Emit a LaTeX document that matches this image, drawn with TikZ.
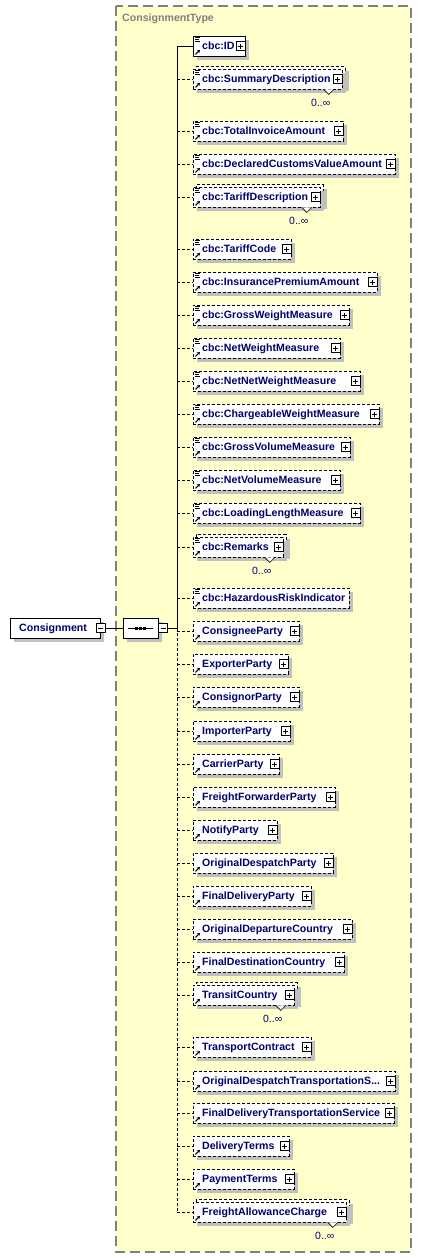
\documentclass[tikz,border=0pt]{standalone}
\usepackage{fontspec}
\setmainfont{Liberation Sans}
\usepackage{tikz}
\usetikzlibrary{arrows.meta, positioning, calc, shadows, shapes.misc}
\definecolor{mynavy}{RGB}{0,0,110}
\definecolor{mygrayline}{RGB}{128,128,128}
\definecolor{myshadow}{RGB}{192,192,192}
\definecolor{myyellow}{RGB}{255,255,204}
\newcommand\elemfont{\fontsize{10.6}{12}\selectfont\bfseries}
\newcommand\occfont{\fontsize{10.5}{12}\selectfont}
\newcommand\cutdots{.{}.{}.}
\tikzset{
  typearea/.style={draw=mygrayline, fill=myyellow, line width=1.2pt,
    dash pattern=on 10pt off 5pt},
  typelabel/.style={anchor=base west, text=mygrayline, font=\elemfont, inner sep=0pt},
  box0/.style={rectangle, draw=black, fill=white, line width=0.8pt,
    minimum height=20pt, anchor=west, inner sep=0pt,
    drop shadow={shadow xshift=4pt, shadow yshift=-4pt, fill=myshadow, opacity=1}},
  box1/.style={box0, dash pattern=on 3pt off 2pt},
  elemtext/.style={anchor=base west, text=mynavy, font=\elemfont, inner sep=0pt},
  occlabel/.style={text=mynavy, font=\occfont, inner sep=0pt},
  plusbox/.style={rectangle, draw=black, fill=white, line width=0.6pt,
    minimum size=9pt, inner sep=0pt,
    path picture={\draw[line width=0.6pt]
      ([xshift=2pt]path picture bounding box.west) -- ([xshift=-2pt]path picture bounding box.east)
      ([yshift=-2pt]path picture bounding box.north) -- ([yshift=2pt]path picture bounding box.south);}},
  minusbox/.style={plusbox, path picture={\draw[line width=0.6pt]
      ([xshift=2pt]path picture bounding box.west) -- ([xshift=-2pt]path picture bounding box.east);}},
  seqbox/.style={chamfered rectangle, chamfered rectangle xsep=6pt,
    chamfered rectangle ysep=6pt, draw=black, fill=white,
    line width=0.8pt, minimum width=35pt, minimum height=20pt, inner sep=0pt,
    drop shadow={shadow xshift=4pt, shadow yshift=-4pt, fill=myshadow, opacity=1}},
  conn0/.style={line width=0.8pt, color=black},
  conn1/.style={conn0, dash pattern=on 3pt off 2pt},
  iconline/.style={line width=0.8pt, color=black},
  refarrow/.style={-{Stealth[length=3pt, width=3.6pt]}, line width=1.1pt, color=black},
  vnotch/.style={line width=0.6pt, draw=black, fill=white}
}

\begin{document}
\begin{tikzpicture}[x=1pt, y=-1pt]
  \useasboundingbox (0,0) rectangle (422,1258);

  % Complex type area
  \draw[typearea] (116,6) rectangle (411,1252);
  \node[typelabel] (typename) at (122,21) {ConsignmentType};

  % Root element and sequence compositor
  \node[box0, minimum width=90pt] (cons) at (10,628) {};
  \node[elemtext] (conslabel) at (19,631.8) {Consignment};
  \node[minusbox] (consmin) at (100.5,628) {};
  \node[seqbox] (seq) at (140.5,628) {};
  \node[minusbox, anchor=west] (seqmin) at (seq.east) {};
  \coordinate (seqjn) at (177,628);
  \draw[conn0] (consmin.east) -- (seq.west);
  \draw[conn0] ([xshift=5pt]seq.west) -- ([xshift=-5pt]seq.east);
  \foreach \d in {-4,0,4}
    \fill ([xshift=\d pt]seq.center) ++(-1.5,-1.5) rectangle ++(3,3);
  \draw[conn0] (seqmin.east) -- (seqjn);

  % Child elements: centre y / right edge / name / multiple / plus / simple / optional
  \foreach \c/\r/\txt/\m/\p/\s/\o [count=\i] in {
      46/245/cbc:ID/0/1/1/0,
      79/342/cbc:SummaryDescription/1/1/1/1,
      131/343/cbc:TotalInvoiceAmount/0/1/1/1,
      164/395/cbc:DeclaredCustomsValueAmount/0/1/1/1,
      197/320/cbc:TariffDescription/1/1/1/1,
      249/291/cbc:TariffCode/0/1/1/1,
      282/377/cbc:InsurancePremiumAmount/0/1/1/1,
      315/349/cbc:GrossWeightMeasure/0/1/1/1,
      348/340/cbc:NetWeightMeasure/0/1/1/1,
      381/360/cbc:NetNetWeightMeasure/0/1/1/1,
      414/379/cbc:ChargeableWeightMeasure/0/1/1/1,
      447/350/cbc:GrossVolumeMeasure/0/1/1/1,
      480/340/cbc:NetVolumeMeasure/0/1/1/1,
      513/360/cbc:LoadingLengthMeasure/0/1/1/1,
      547/283/cbc:Remarks/1/1/1/1,
      598/349/cbc:HazardousRiskIndicator/0/0/1/1,
      631/299/ConsigneeParty/0/1/0/1,
      664/288/ExporterParty/0/1/0/1,
      697/299/ConsignorParty/0/1/0/1,
      731/290/ImporterParty/0/1/0/1,
      764/279/CarrierParty/0/1/0/1,
      797/335/FreightForwarderParty/0/1/0/1,
      830/277/NotifyParty/0/1/0/1,
      863/333/OriginalDespatchParty/0/1/0/1,
      896/311/FinalDeliveryParty/0/1/0/1,
      929/352/OriginalDepartureCountry/0/1/0/1,
      962/344/FinalDestinationCountry/0/1/0/1,
      995/294/TransitCountry/1/1/0/1,
      1047/311/TransportContract/0/1/0/1,
      1081/395/OriginalDespatchTransportationS\cutdots/0/1/0/1,
      1113/394/FinalDeliveryTransportationService/0/1/0/1,
      1146/289/DeliveryTerms/0/1/0/1,
      1179/294/PaymentTerms/0/1/0/1,
      1212/346/FreightAllowanceCharge/1/1/0/1} {
    \pgfmathsetmacro\w{\r-193}
    \ifnum\m=1
      \node[box1, minimum width=\w pt] (back\i) at (195.5,\c-2.5) {};
    \fi
    \node[box\o, minimum width=\w pt] (el\i) at (193,\c) {};
    \node[elemtext] (lb\i) at (202,\c+3.8) {\txt};
    \ifnum\p=1
      \node[plusbox] (pl\i) at ($(el\i.east)+(-5.5,0)$) {};
    \fi
    \ifnum\s=1
      \draw[iconline] ($(el\i.north west)+(2,2)$) -- ++(5,0) ++(-5,2) -- ++(4,0) ++(-4,2) -- ++(5,0);
    \fi
    \draw[refarrow] ($(el\i.south west)+(2.5,-2)$) -- ++(4.5,-4.5);
    \ifnum\m=1
      \draw[vnotch] ($(el\i.south east)+(-19,0)$) -- ++(5,5) -- ++(5,-5);
      \node[occlabel] (occ\i) at ($(el\i.south east)+(-22,13)$) {0..∞};
    \fi
    \draw[conn\o] (seqjn |- el\i.west) -- (el\i.west);
  }

  % Trunk of the sequence
  \draw[conn0] (seqjn) -- (seqjn |- el1.west);
  \draw[conn1] (seqjn) -- (seqjn |- el34.west);
\end{tikzpicture}
\end{document}
